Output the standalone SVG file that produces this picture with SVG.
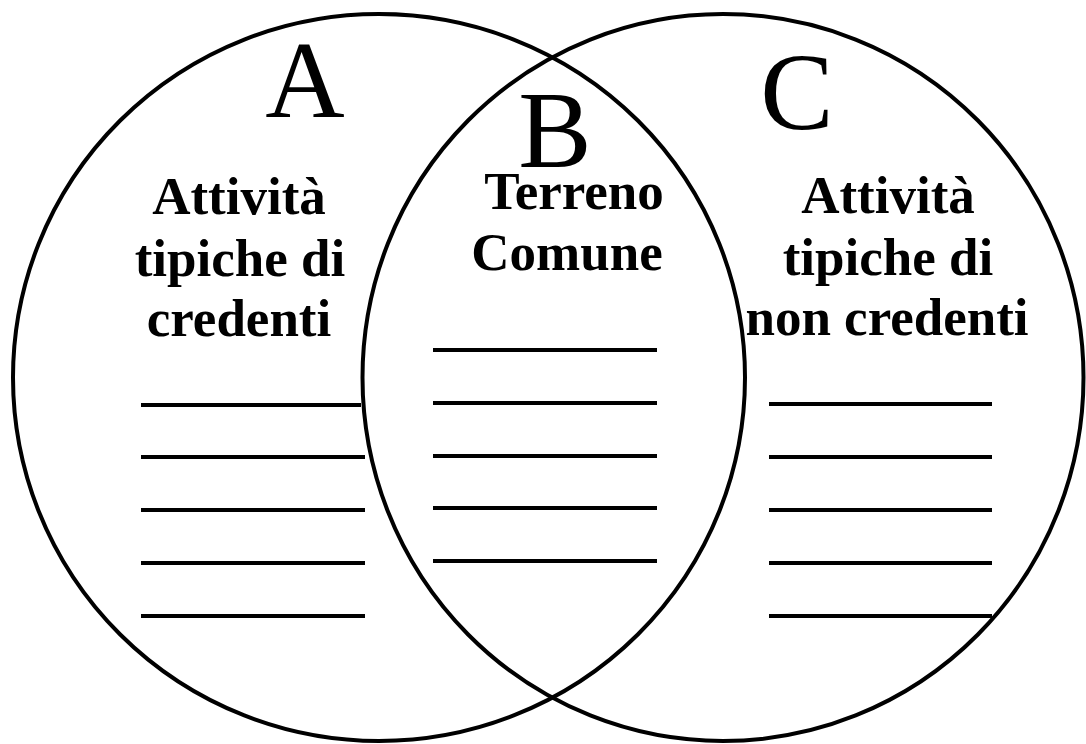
<svg xmlns="http://www.w3.org/2000/svg" width="1086" height="744" viewBox="0 0 1086 744">
<style>
.ring{fill:none;stroke:#000;stroke-width:4}
.blank{stroke:#000;stroke-width:4}
.big{font-family:"Liberation Serif","Times New Roman",serif;font-size:110px;fill:#000;text-anchor:middle}
.lbl{font-family:"Liberation Serif","Times New Roman",serif;font-size:53px;font-weight:bold;fill:#000;text-anchor:middle}
</style>
<rect width="1086" height="744" fill="#fff"/>
<g id="circleA">
<ellipse class="ring" cx="379" cy="377.5" rx="366" ry="363.5"/>
<text class="big" x="305" y="117">A</text>
<text class="lbl" x="239" y="214">Attività</text>
<text class="lbl" x="240" y="276">tipiche di</text>
<text class="lbl" x="239" y="336">credenti</text>
<line class="blank" x1="141" y1="405" x2="361" y2="405"/>
<line class="blank" x1="141" y1="457" x2="365" y2="457"/>
<line class="blank" x1="141" y1="510" x2="365" y2="510"/>
<line class="blank" x1="141" y1="563" x2="365" y2="563"/>
<line class="blank" x1="141" y1="616" x2="365" y2="616"/>
</g>
<g id="circleC">
<ellipse class="ring" cx="723" cy="377.5" rx="360.5" ry="363.5"/>
<text class="big" x="797" y="129">C</text>
<text class="lbl" x="888" y="213">Attività</text>
<text class="lbl" x="888" y="275">tipiche di</text>
<text class="lbl" x="887" y="335">non credenti</text>
<line class="blank" x1="769" y1="404" x2="992" y2="404"/>
<line class="blank" x1="769" y1="457" x2="992" y2="457"/>
<line class="blank" x1="769" y1="510" x2="992" y2="510"/>
<line class="blank" x1="769" y1="563" x2="992" y2="563"/>
<line class="blank" x1="769" y1="616" x2="992" y2="616"/>
</g>
<g id="overlapB">
<text class="big" x="555" y="167">B</text>
<text class="lbl" x="574" y="209">Terreno</text>
<text class="lbl" x="567" y="270">Comune</text>
<line class="blank" x1="433" y1="350" x2="657" y2="350"/>
<line class="blank" x1="433" y1="403" x2="657" y2="403"/>
<line class="blank" x1="433" y1="456" x2="657" y2="456"/>
<line class="blank" x1="433" y1="508" x2="657" y2="508"/>
<line class="blank" x1="433" y1="561" x2="657" y2="561"/>
</g>
<g id="connectors"/>
</svg>
